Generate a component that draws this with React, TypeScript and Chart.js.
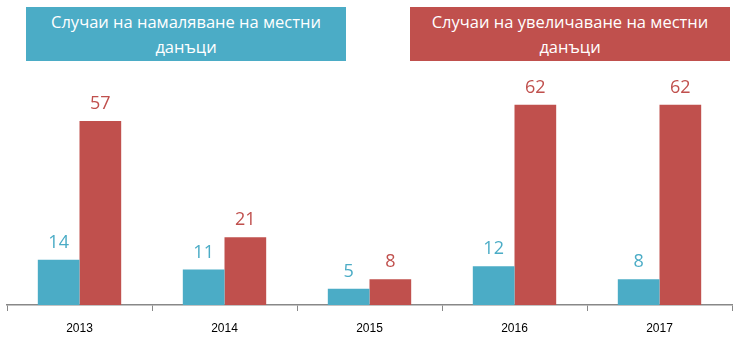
import React, { useEffect, useRef } from "react";
import { Chart, registerables } from "chart.js";

Chart.register(...registerables);

const categories = ["2013", "2014", "2015", "2016", "2017"];
const decreaseValues = [14, 11, 5, 12, 8];
const increaseValues = [57, 21, 8, 62, 62];
const decreaseLabel = "Случаи на намаляване на местни данъци";
const increaseLabel = "Случаи на увеличаване на местни данъци";
const BLUE = "#4BACC6";
const RED = "#C0504D";

const valueLabels = {
  id: "valueLabels",
  afterDatasetsDraw(chart: any) {
    const ctx = chart.ctx;
    ctx.save();
    ctx.font = "18px 'Open Sans', sans-serif";
    ctx.textAlign = "center";
    ctx.textBaseline = "bottom";
    chart.data.datasets.forEach((ds: any, i: number) => {
      const meta = chart.getDatasetMeta(i);
      ctx.fillStyle = ds.backgroundColor;
      meta.data.forEach((bar: any, j: number) => {
        ctx.fillText(String(ds.data[j]), bar.x, bar.y - 8);
      });
    });
    ctx.restore();
  },
};

export default function App() {
  const ref = useRef<HTMLCanvasElement | null>(null);
  useEffect(() => {
    document.body.style.margin = "0";
    const chart = new Chart(ref.current!, {
      type: "bar",
      data: {
        labels: categories,
        datasets: [
          { label: decreaseLabel, data: decreaseValues, backgroundColor: BLUE },
          { label: increaseLabel, data: increaseValues, backgroundColor: RED },
        ],
      },
      options: {
        animation: false,
        responsive: false,
        layout: { padding: { top: 79, left: 7, right: 18, bottom: 0 } },
        datasets: { bar: { categoryPercentage: 0.575, barPercentage: 1 } },
        plugins: { legend: { display: false }, tooltip: { enabled: false } },
        scales: {
          y: { display: false, min: 0, max: 70 },
          x: {
            afterFit: (s: any) => { s.height = 52; },
            grid: { drawOnChartArea: false, drawTicks: true, tickLength: 6, color: "#888", offset: true },
            border: { color: "#888", width: 1.5 },
            ticks: { color: "#000", padding: 10, font: { family: "'Liberation Sans', sans-serif", size: 12 } },
          },
        },
      },
      plugins: [valueLabels],
    });
    return () => chart.destroy();
  }, []);
  const boxStyle: React.CSSProperties = {
    position: "absolute",
    top: 7,
    width: 320,
    height: 54,
    color: "#fff",
    fontFamily: "'Open Sans', sans-serif",
    fontSize: 16.5,
    lineHeight: "25px",
    textAlign: "center",
    display: "flex",
    alignItems: "center",
    justifyContent: "center",
    boxSizing: "border-box",
    padding: "0 20px",
  };
  return (
    <div style={{ position: "relative", width: 750, height: 357 }}>
      <canvas ref={ref} width={750} height={357} />
      <div style={{ ...boxStyle, left: 26, background: BLUE }}>{decreaseLabel}</div>
      <div style={{ ...boxStyle, left: 410, background: RED }}>{increaseLabel}</div>
    </div>
  );
}
